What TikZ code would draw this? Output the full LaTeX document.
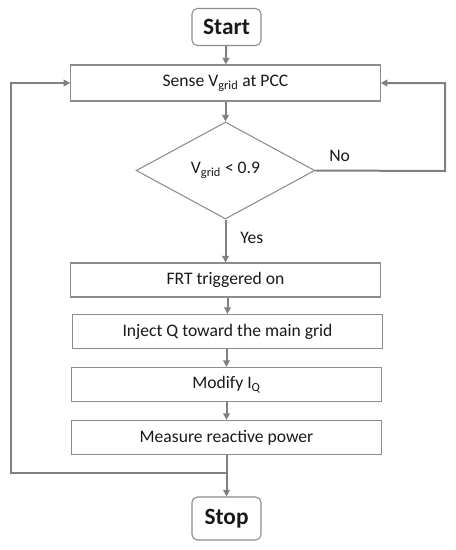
\documentclass[tikz,border=0pt]{standalone}
\usepackage{fontspec}
\setmainfont{Carlito}
\usepackage{tikz}
\usetikzlibrary{arrows.meta,calc,positioning,shapes.geometric}
\definecolor{fcgray}{RGB}{128,128,128}
\definecolor{fcedge}{RGB}{140,140,140}
\definecolor{fctext}{RGB}{25,25,25}

\begin{document}
\begin{tikzpicture}[
      x=0.75pt, y=-0.75pt,
      endbox/.style={draw=fcedge, rounded corners=4pt, line width=0.8pt, minimum width=51.75pt, inner sep=0pt, font=\fontsize{17.5}{20}\selectfont\bfseries, text=fctext},
      procbox/.style={draw=fcedge, line width=0.8pt, minimum width=232pt, minimum height=25.5pt, inner sep=0pt, font=\fontsize{13.2}{16}\selectfont, text=fctext},
      testbox/.style={draw=fcedge, diamond, line width=0.8pt, minimum width=134pt, minimum height=72.75pt, inner sep=0pt, font=\fontsize{13.2}{16}\selectfont, text=fctext},
      flow/.style={draw=fcgray, line width=1.5pt, -{Triangle[length=5pt,width=5pt]}},
      tag/.style={font=\fontsize{13.2}{16}\selectfont, text=fctext, inner sep=0pt}
    ]
      \useasboundingbox (0,0) rectangle (456,550);

      % terminals
      \node[endbox, minimum height=27.75pt] (start) at (226.5, 27) {Start};
      \node[endbox, minimum height=32.25pt] (stop) at (226.5, 518.5) {Stop};

      % process steps
      \node[procbox, minimum height=27pt] (sense) at (225.5, 83) {Sense V\textsubscript{grid} at PCC};
      \node[testbox] (check) at (225.5, 170.5) {V\textsubscript{grid} < 0.9};
      \node[procbox] (frt) at (225.5, 280) {FRT triggered on};
      \node[procbox] (inject) at (227.5, 331.5) {Inject Q toward the main grid};
      \node[procbox] (modify) at (226.5, 384.5) {Modify I\textsubscript{Q}};
      \node[procbox] (measure) at (226.5, 437.5) {Measure reactive power};

      % loop corners
      \coordinate (loopR) at (445, 171);
      \coordinate (loopL) at (11, 473);
      \coordinate (join) at (226.5, 473);

      % connectors
      \draw[flow] (start) -- (sense);
      \draw[flow] (sense) -- (check);
      \draw[flow] (check.south) -- (check.south |- frt.north);
      \draw[flow] (frt.south -| inject.north) -- (inject);
      \draw[flow] (inject.south -| modify.north) -- (modify);
      \draw[flow] (modify) -- (measure);
      \draw[flow] (measure) -- (stop);
      \draw[flow] (check.east) -- (loopR) |- (sense.east);
      \draw[flow] (join) -- (loopL) |- (sense.west);

      % branch labels
      \node[tag, anchor=west] (yes) at (240, 238) {Yes};
      \node[tag, anchor=west] (no) at (329, 156) {No};
    \end{tikzpicture}
\end{document}
